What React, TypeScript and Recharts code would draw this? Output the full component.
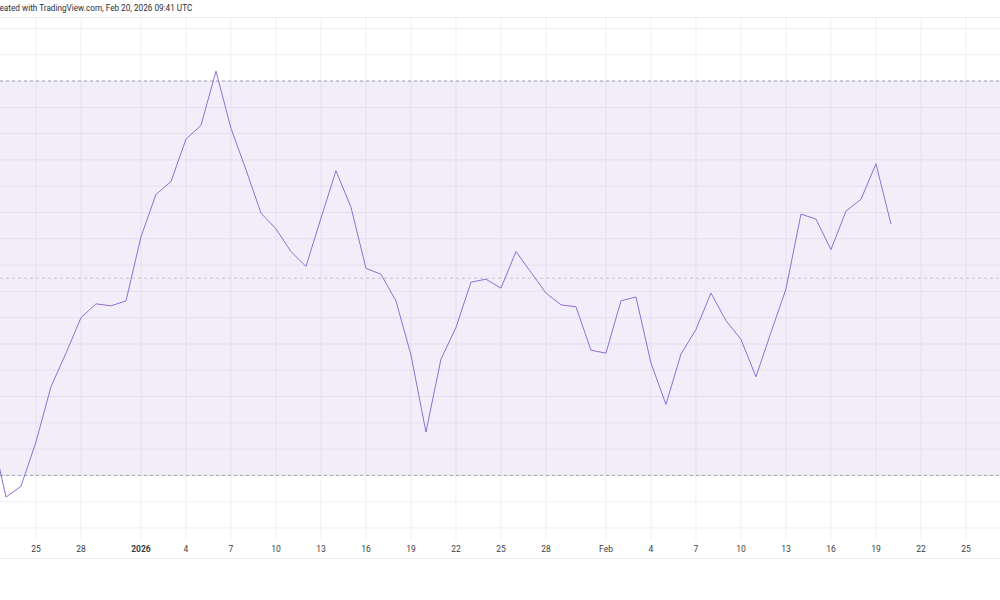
import React from "react";
import {
  LineChart,
  Line,
  XAxis,
  YAxis,
  CartesianGrid,
  ReferenceArea,
  ReferenceLine,
} from "recharts";

// daily RSI readings, Dec 22 2025 .. Feb 20 2026
const dates = [
  "2025-12-22", "2025-12-23", "2025-12-24", "2025-12-25", "2025-12-26", "2025-12-27",
  "2025-12-28", "2025-12-29", "2025-12-30", "2025-12-31", "2026-01-01", "2026-01-02",
  "2026-01-03", "2026-01-04", "2026-01-05", "2026-01-06", "2026-01-07", "2026-01-08",
  "2026-01-09", "2026-01-10", "2026-01-11", "2026-01-12", "2026-01-13", "2026-01-14",
  "2026-01-15", "2026-01-16", "2026-01-17", "2026-01-18", "2026-01-19", "2026-01-20",
  "2026-01-21", "2026-01-22", "2026-01-23", "2026-01-24", "2026-01-25", "2026-01-26",
  "2026-01-27", "2026-01-28", "2026-01-29", "2026-01-30", "2026-01-31", "2026-02-01",
  "2026-02-02", "2026-02-03", "2026-02-04", "2026-02-05", "2026-02-06", "2026-02-07",
  "2026-02-08", "2026-02-09", "2026-02-10", "2026-02-11", "2026-02-12", "2026-02-13",
  "2026-02-14", "2026-02-15", "2026-02-16", "2026-02-17", "2026-02-18", "2026-02-19",
  "2026-02-20",
];

const rsi = [
  34.6, 27.8, 28.9, 33.4, 39.0, 42.4,
  46.0, 47.4, 47.2, 47.7, 54.2, 58.5,
  59.8, 64.1, 65.5, 71.0, 65.2, 61.0,
  56.6, 55.0, 52.7, 51.2, 56.1, 60.9,
  57.2, 51.0, 50.4, 47.7, 42.2, 34.4,
  41.8, 45.0, 49.6, 49.9, 49.0, 52.7,
  50.6, 48.5, 47.3, 47.1, 42.7, 42.4,
  47.7, 48.1, 41.4, 37.2, 42.3, 44.8,
  48.5, 45.7, 43.8, 40.0, 44.5, 48.9,
  56.5, 56.0, 52.9, 56.8, 58.0, 61.6,
  55.5,
];

const tickDates = [
  "2025-12-25", "2025-12-28", "2026-01-01", "2026-01-04", "2026-01-07", "2026-01-10",
  "2026-01-13", "2026-01-16", "2026-01-19", "2026-01-22", "2026-01-25", "2026-01-28",
  "2026-02-01", "2026-02-04", "2026-02-07", "2026-02-10", "2026-02-13", "2026-02-16",
  "2026-02-19", "2026-02-22", "2026-02-25",
];
const tickLabels = [
  "25", "28", "2026", "4", "7", "10", "13", "16", "19", "22", "25", "28",
  "Feb", "4", "7", "10", "13", "16", "19", "22", "25",
];

const gridValues = [
  75.33, 72.67, 70, 67.33, 64.67, 62, 59.33, 56.67, 54, 51.33, 48.67, 46,
  43.33, 40.67, 38, 35.33, 32.67, 30, 27.33, 24.67,
];

const upperBand = 70;
const middleBand = 50;
const lowerBand = 30;

const origin = Date.UTC(2025, 11, 23);
const toDay = (d: string) => {
  const [y, m, dd] = d.split("-").map(Number);
  return Math.round((Date.UTC(y, m - 1, dd) - origin) / 86400000);
};

const data = dates.map((d, i) => ({ day: toDay(d), rsi: rsi[i] }));
const tickDays = tickDates.map(toDay);

const DateTick = (props: any) => {
  const { x, y, payload } = props;
  const idx = tickDays.indexOf(payload.value);
  const label = tickLabels[idx] ?? "";
  return (
    <text
      x={x}
      y={y + 9}
      textAnchor="middle"
      dominantBaseline="central"
      fontSize={8.5}
      fontFamily="Roboto, sans-serif"
      fontWeight={label === "2026" ? 700 : 400}
      fill="#3b3d45"
    >
      {label}
    </text>
  );
};

export default function App() {
  return (
    <div
      style={{
        position: "absolute",
        left: 0,
        top: 0,
        width: 1000,
        height: 600,
        background: "#ffffff",
        overflow: "hidden",
      }}
    >
      <div
        style={{
          position: "absolute",
          left: -8.5,
          top: 3,
          fontSize: 8.2,
          fontFamily: "Roboto, sans-serif",
          color: "#2a2e39",
          whiteSpace: "nowrap",
        }}
      >
        Created with TradingView.com, Feb 20, 2026 09:41 UTC
      </div>
      <div style={{ position: "absolute", left: 0, top: 17, width: 1000, height: 1, background: "#eeeef2" }} />
      <div style={{ position: "absolute", left: 0, top: 558, width: 1000, height: 1, background: "#eeeef2" }} />
      <div style={{ position: "absolute", left: 0, top: 0 }}>
        <LineChart
          width={1000}
          height={560}
          data={data}
          margin={{ top: 18, right: 0, bottom: 0, left: 0 }}
        >
          <CartesianGrid
            stroke="#f0eff4"
            strokeWidth={1}
            horizontalValues={gridValues}
            verticalValues={tickDays}
          />
          <XAxis
            type="number"
            dataKey="day"
            domain={[-0.4, 66.27]}
            allowDataOverflow
            ticks={tickDays}
            interval={0}
            axisLine={false}
            tickLine={false}
            tickSize={0}
            tickMargin={0}
            height={20}
            tick={<DateTick />}
          />
          <YAxis hide domain={[23.45, 76.39]} allowDataOverflow ticks={gridValues} />
          <ReferenceArea
            y1={lowerBand}
            y2={upperBand}
            fill="rgb(126, 87, 194)"
            fillOpacity={0.1}
            stroke="none"
          />
          <ReferenceLine y={upperBand} stroke="#a3a5ae" strokeDasharray="3 3" />
          <ReferenceLine y={middleBand} stroke="#c6c3d0" strokeDasharray="3 3" />
          <ReferenceLine y={lowerBand} stroke="#a3a5ae" strokeDasharray="3 3" />
          <Line
            type="linear"
            dataKey="rsi"
            stroke="#8f6fd4"
            strokeWidth={1}
            dot={false}
            isAnimationActive={false}
          />
        </LineChart>
      </div>
    </div>
  );
}
